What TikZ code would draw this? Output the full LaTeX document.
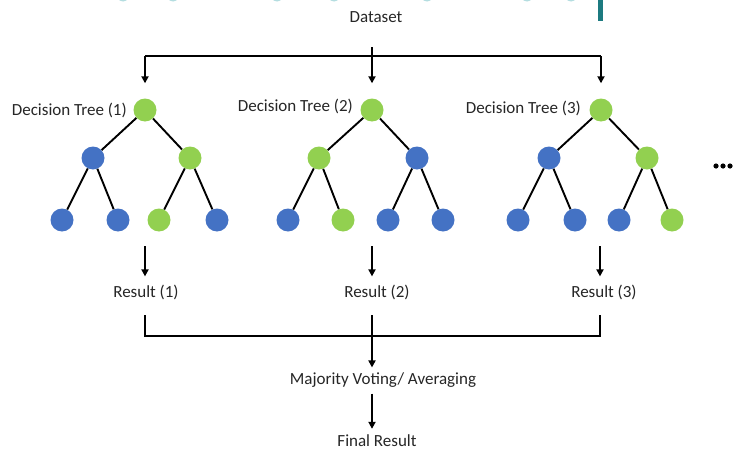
\documentclass[tikz,border=0pt]{standalone}
\usepackage{fontspec}
\setmainfont{Carlito}
\usetikzlibrary{arrows.meta}
\definecolor{gn}{HTML}{92D050}
\definecolor{bl}{HTML}{4472C4}
\definecolor{tealbar}{HTML}{1C7A80}
\definecolor{tealfaint}{HTML}{B4DDE0}
\tikzset{
  gnode/.style={circle,fill=gn,minimum size=23pt,inner sep=0pt},
  bnode/.style={circle,fill=bl,minimum size=23pt,inner sep=0pt},
  edge/.style={line width=1.9pt,black},
  conn/.style={line width=1.9pt,black},
  arr/.style={line width=1.9pt,black,-{Triangle[length=7pt,width=7pt]}},
  lbl/.style={font=\fontsize{17}{20}\selectfont,inner sep=0pt,text=black!85},
}
\begin{document}
\begin{tikzpicture}[x=1pt,y=-1pt]
\useasboundingbox (0,0) rectangle (737,455);
% cut-off decorations at the top
\foreach \x in {123,173,277,334,427,527,571}
  \fill[tealfaint] (\x,-1.5) ellipse (4.5pt and 3pt);
\fill[tealbar] (598,0) rectangle (603,21);

% dataset
\node[lbl] (ds) at (376,17) {Dataset};
\coordinate (dstop) at (372,47);
\coordinate (dsbar) at (372,56);
\coordinate (dsl) at (145,56);
\coordinate (dsr) at (601,56);

% tree 1
\node[gnode] (r1) at (145,110) {};
\node[bnode] (a1) at (93,158) {};
\node[gnode] (b1) at (190,158) {};
\node[bnode] (c1) at (62,220) {};
\node[bnode] (d1) at (118,220) {};
\node[gnode] (e1) at (159,220) {};
\node[bnode] (f1) at (217,220) {};
% tree 2
\node[gnode] (r2) at (372,110) {};
\node[gnode] (a2) at (319,158) {};
\node[bnode] (b2) at (417,158) {};
\node[bnode] (c2) at (288,220) {};
\node[gnode] (d2) at (343,220) {};
\node[bnode] (e2) at (388,220) {};
\node[bnode] (f2) at (443,220) {};
% tree 3
\node[gnode] (r3) at (601,110) {};
\node[bnode] (a3) at (549,158) {};
\node[gnode] (b3) at (647,158) {};
\node[bnode] (c3) at (518,220) {};
\node[bnode] (d3) at (575,220) {};
\node[bnode] (e3) at (619,220) {};
\node[gnode] (f3) at (672,220) {};

\foreach \t in {1,2,3}{
  \draw[edge] (r\t) -- (a\t);
  \draw[edge] (r\t) -- (b\t);
  \draw[edge] (a\t) -- (c\t);
  \draw[edge] (a\t) -- (d\t);
  \draw[edge] (b\t) -- (e\t);
  \draw[edge] (b\t) -- (f\t);
}

\node[lbl,anchor=east] (t1) at (127,110) {Decision Tree (1)};
\node[lbl,anchor=east] (t2) at (353,106) {Decision Tree (2)};
\node[lbl,anchor=east] (t3) at (581,108) {Decision Tree (3)};

% ellipsis
\foreach \x [count=\i] in {716,723,730}
  \fill (\x,166) circle (2.6pt) coordinate (dot\i);

% dataset connectors
\draw[conn] (dstop) -- (dsbar);
\draw[conn] (dsl) -- (dsr);
\draw[arr,shorten >=15pt] (dsl) -- (r1);
\draw[arr,shorten >=15pt] (dsbar) -- (r2);
\draw[arr,shorten >=15pt] (dsr) -- (r3);

% results
\node[lbl] (res1) at (146,292) {Result (1)};
\node[lbl] (res2) at (377,292) {Result (2)};
\node[lbl] (res3) at (604,292) {Result (3)};
\coordinate (s1) at (145,246);
\coordinate (s2) at (372,246);
\coordinate (s3) at (600,246);
\draw[arr,shorten >=8pt] (s1) -- (s1 |- res1.north);
\draw[arr,shorten >=8pt] (s2) -- (s2 |- res2.north);
\draw[arr,shorten >=8pt] (s3) -- (s3 |- res3.north);

% merge
\coordinate (m1) at (145,315);
\coordinate (m2) at (372,315);
\coordinate (m3) at (600,315);
\coordinate (h1) at (145,336);
\coordinate (h3) at (600,336);
\draw[conn] (m1) -- (h1) -- (h3) -- (m3);
\node[lbl] (mv) at (383,380) {Majority Voting/ Averaging};
\draw[arr,shorten >=5pt] (m2) -- (m2 |- mv.north);
\node[lbl] (fr) at (377,441) {Final Result};
\draw[arr,shorten <=6pt,shorten >=6pt] (m2 |- mv.south) -- (m2 |- fr.north);
\end{tikzpicture}
\end{document}
